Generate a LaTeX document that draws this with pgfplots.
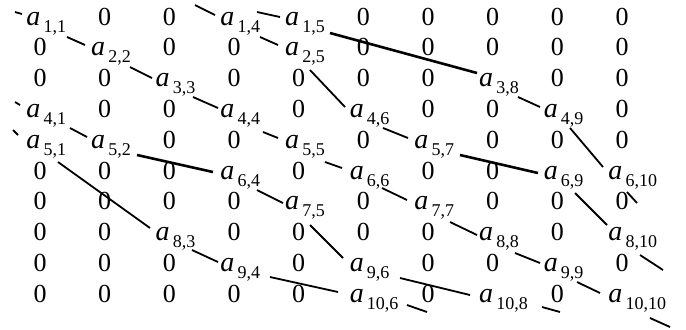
\documentclass[border=0pt]{standalone}
\usepackage{fontspec}
\setmainfont{Liberation Serif}
\usepackage{pgfplots}
\pgfplotsset{compat=1.18}
\usepackage{pgfplotstable}

% matrix entries: column c, row r
\pgfplotstableread{
c r
2 1
3 1
6 1
7 1
8 1
9 1
10 1
1 2
3 2
4 2
6 2
7 2
8 2
9 2
10 2
1 3
2 3
4 3
5 3
6 3
7 3
9 3
10 3
2 4
3 4
5 4
7 4
8 4
10 4
3 5
4 5
6 5
8 5
9 5
10 5
1 6
2 6
3 6
5 6
7 6
8 6
1 7
2 7
3 7
4 7
6 7
8 7
9 7
10 7
1 8
2 8
4 8
5 8
6 8
7 8
9 8
1 9
2 9
3 9
5 9
7 9
8 9
10 9
1 10
2 10
3 10
4 10
5 10
7 10
9 10
}\zeros

\pgfplotstableread{
c r lab
1 1 1,1
4 1 1,4
5 1 1,5
2 2 2,2
5 2 2,5
3 3 3,3
8 3 3,8
1 4 4,1
4 4 4,4
6 4 4,6
9 4 4,9
1 5 5,1
2 5 5,2
5 5 5,5
7 5 5,7
4 6 6,4
6 6 6,6
9 6 6,9
10 6 6,10
5 7 7,5
7 7 7,7
3 8 8,3
8 8 8,8
10 8 8,10
4 9 9,4
6 9 9,6
9 9 9,9
6 10 10,6
8 10 10,8
10 10 10,10
}\nonzeros

\begin{document}
\begin{tikzpicture}
\begin{axis}[
  scale only axis, width=343pt, height=164.5pt,
  xmin=0, xmax=686, ymin=0, ymax=329, y dir=reverse,
  axis line style={draw=none}, ticks=none, clip=false,
  font=\fontsize{13}{15}\selectfont,
]
% links between entries
\addplot[black, line width=0.9pt, unbounded coords=jump] coordinates {
  (15,12)(22,14) (nan,nan)
  (195,5)(215,15) (nan,nan)
  (257,12)(280,17) (nan,nan)
  (67,37)(85,45) (nan,nan)
  (260,37)(278,45) (nan,nan)
  (130,67)(152,78) (nan,nan)
  (310,70)(345,107) (nan,nan)
  (193,97)(218,108) (nan,nan)
  (15,102)(20,105) (nan,nan)
  (70,128)(87,137) (nan,nan)
  (13,130)(18,135) (nan,nan)
  (263,132)(278,138) (nan,nan)
  (383,128)(408,138) (nan,nan)
  (518,97)(540,107) (nan,nan)
  (570,128)(603,167) (nan,nan)
  (58,162)(150,228) (nan,nan)
  (325,162)(342,168) (nan,nan)
  (257,190)(283,203) (nan,nan)
  (382,188)(407,200) (nan,nan)
  (575,193)(607,225) (nan,nan)
  (627,192)(637,203) (nan,nan)
  (310,225)(343,258) (nan,nan)
  (450,222)(477,235) (nan,nan)
  (192,250)(218,262) (nan,nan)
  (515,253)(540,263) (nan,nan)
  (640,255)(663,270) (nan,nan)
  (270,277)(338,292) (nan,nan)
  (400,278)(470,295) (nan,nan)
  (577,282)(600,293) (nan,nan)
  (407,305)(427,312) (nan,nan)
  (542,307)(560,312) (nan,nan)
  (650,318)(670,327)
};
\addplot[black, line width=1.3pt, unbounded coords=jump] coordinates {
  (330,33)(477,73) (nan,nan)
  (137,155)(213,172) (nan,nan)
  (460,155)(538,173)
};
% zero entries
\addplot[only marks, mark=none, nodes near coords={0},
  every node near coord/.style={anchor=base, inner sep=0pt, text=black}]
  table[x expr={40+(\thisrow{c}-1)*64.67}, y expr={25+(\thisrow{r}-1)*30.8}] {\zeros};
% nonzero entries
\addplot[only marks, mark=none, point meta=explicit symbolic,
  nodes near coords={{\fontsize{14}{15}\selectfont\itshape a}\hspace{1.6pt}\raisebox{-3.5pt}{\fontsize{9}{10}\selectfont\pgfplotspointmeta}},
  every node near coord/.style={anchor=base west, inner sep=0pt, xshift=-7pt, text=black}]
  table[x expr={40+(\thisrow{c}-1)*64.67}, y expr={25+(\thisrow{r}-1)*30.8}, meta=lab] {\nonzeros};
\end{axis}
\end{tikzpicture}
\end{document}
